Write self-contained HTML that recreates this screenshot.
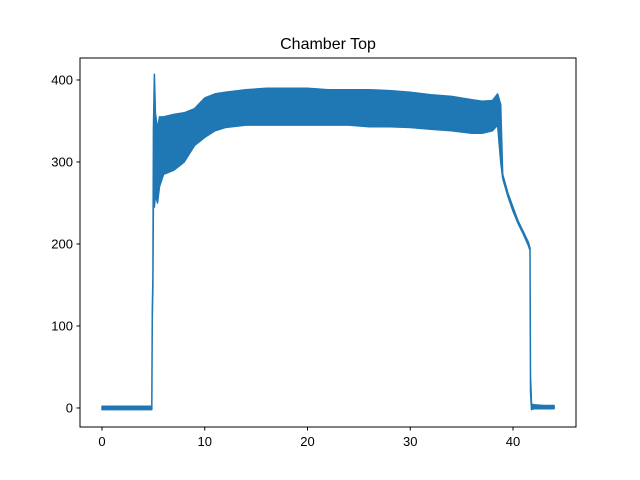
<!DOCTYPE html>
<html><head><meta charset="utf-8"><style>
body{margin:0;background:#fff;}
svg{display:block;font-family:"Liberation Sans","DejaVu Sans",sans-serif;}
</style></head><body>
<svg id="chart" width="640" height="480">
<rect width="640" height="480" fill="#fff"/>
<text x="328" y="49" font-size="16" text-anchor="middle">Chamber Top</text>
<g id="plot"></g>
<rect x="80" y="58" width="496" height="369" fill="none" stroke="#000" stroke-width="1"/>
<g id="xt"></g><g id="yt"></g>
</svg>
<script>
const xs=[0,4.85,4.9,4.95,5.0,5.1,5.2,5.4,5.6,6,7,8,9,10,11,12,14,16,18,20,22,24,26,28,30,32,34,36,37,38,38.5,38.8,39,39.5,40,40.5,41,41.5,41.65,41.7,41.8,42,43,44];
const hi=[2,2,120,160,340,407,360,340,355,355,358,360,365,378,383,385,388,390,390,390,388,388,388,387,385,382,380,376,374,375,383,370,285,262,245,228,215,202,195,40,5,4,3,3];
const lo=[-2,-2,110,150,250,245,260,250,270,285,290,300,320,330,338,342,345,345,345,345,345,345,343,343,342,340,338,335,335,338,345,300,280,258,240,225,212,198,192,20,-2,-1,-1,-1];
const xTicks=[0,10,20,30,40];
const yTicks=[0,100,200,300,400];
const X=v=>80+(v+2.14)/(46.13+2.14)*496;
const Y=v=>427-(v+23.2)/(426.8+23.2)*369;
const NS="http://www.w3.org/2000/svg";
const plot=document.getElementById('plot');
let d="M"+xs.map((x,i)=>X(x).toFixed(1)+","+Y(hi[i]).toFixed(1)).join("L");
for(let i=xs.length-1;i>=0;i--)d+="L"+X(xs[i]).toFixed(1)+","+Y(lo[i]).toFixed(1);
d+="Z";
const band=document.createElementNS(NS,'path');
band.setAttribute('d',d);band.setAttribute('fill','#1f77b4');band.setAttribute('stroke','#1f77b4');band.setAttribute('stroke-width','1.5');band.setAttribute('stroke-linejoin','round');


plot.appendChild(band);
const xt=document.getElementById('xt');
xTicks.forEach(t=>{const x=X(t);
const l=document.createElementNS(NS,'line');l.setAttribute('x1',x);l.setAttribute('x2',x);l.setAttribute('y1',427);l.setAttribute('y2',430.5);l.setAttribute('stroke','#000');


xt.appendChild(l);
const s=document.createElementNS(NS,'text');s.setAttribute('x',x);s.setAttribute('y',446);s.setAttribute('font-size','13');s.setAttribute('text-anchor','middle');s.textContent=t;


xt.appendChild(s);});
const yt=document.getElementById('yt');
yTicks.forEach(t=>{const y=Y(t);
const l=document.createElementNS(NS,'line');l.setAttribute('x1',76.5);l.setAttribute('x2',80);l.setAttribute('y1',y);l.setAttribute('y2',y);l.setAttribute('stroke','#000');


yt.appendChild(l);
const s=document.createElementNS(NS,'text');s.setAttribute('x',73);s.setAttribute('y',y+4.5);s.setAttribute('font-size','13');s.setAttribute('text-anchor','end');s.textContent=t;


yt.appendChild(s);});
</script>
</body></html>
